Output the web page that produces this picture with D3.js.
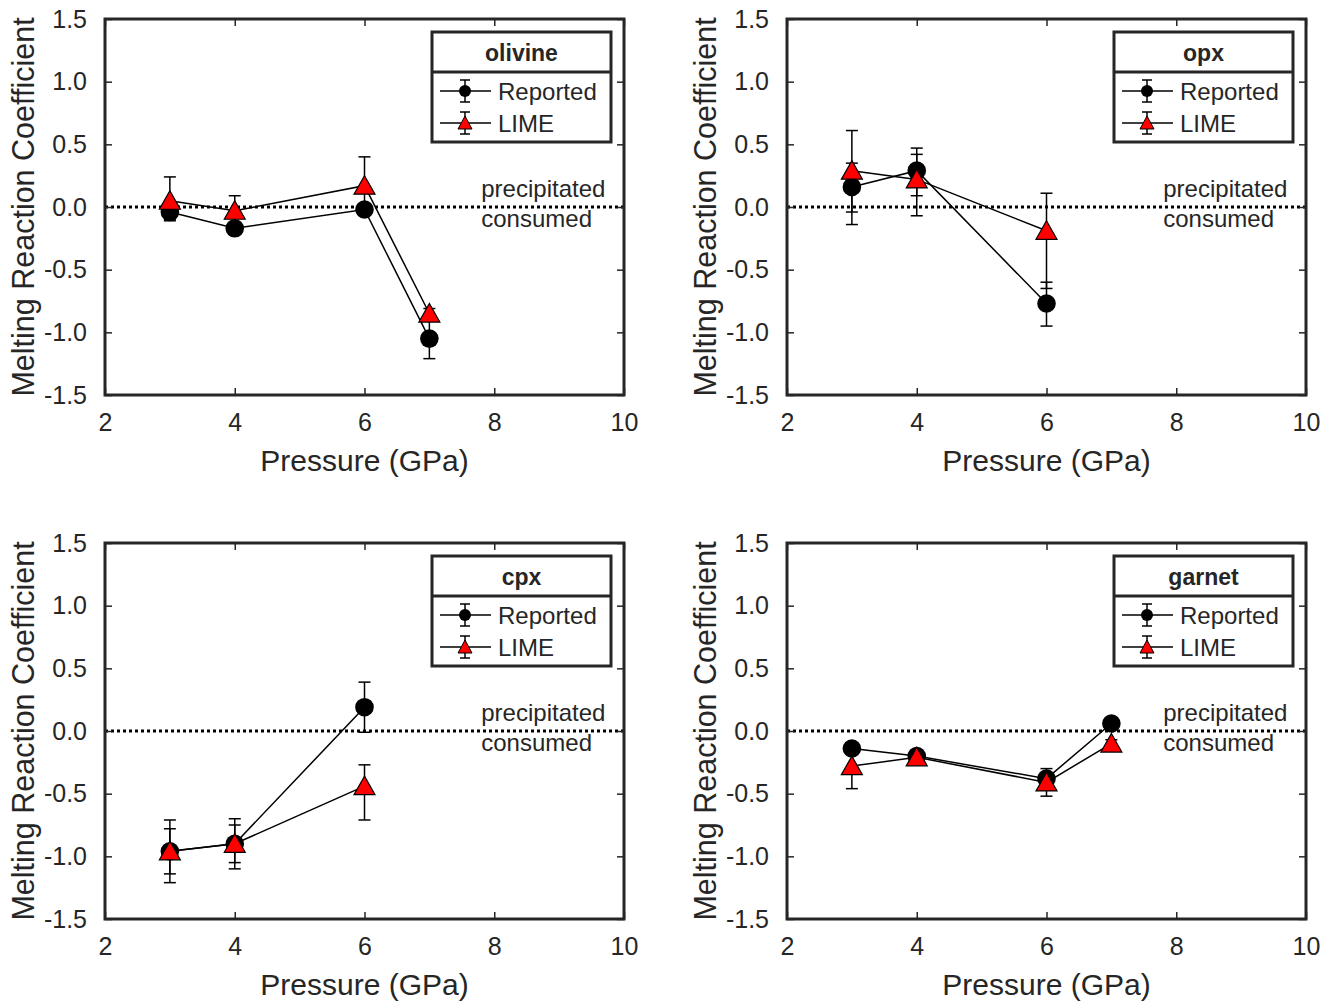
<!DOCTYPE html>
<head>
<meta charset="utf-8">
<title>Melting reaction coefficients</title>
<script src="https://cdn.jsdelivr.net/npm/d3@7"></script>
<style>
body { margin: 0; background: #fff; }
text { font-family: "Liberation Sans", Arial, sans-serif; fill: #262626; }
.tick line { stroke: #262626; stroke-width: 1.5px; }
.tick text { font-size: 25px; }
</style>
</head>
<body>
<svg id="svg" width="1333" height="1002"></svg>
<script>

// values
var minerals = ["olivine", "opx", "cpx", "garnet"];
var pressures = [[3, 4, 6, 7], [3, 4, 6], [3, 4, 6], [3, 4, 6, 7]];

var reported    = [[-0.04, -0.17, -0.02, -1.05], [0.16, 0.29, -0.77], [-0.96, -0.90, 0.19], [-0.14, -0.20, -0.38, 0.06]];
var reportedNeg = [[0.06, 0.03, 0.03, 0.16], [0.30, 0.20, 0.18], [0.25, 0.20, 0.20], [0.03, 0.03, 0.03, 0.04]];
var reportedPos = [[0.06, 0.03, 0.03, 0.16], [0.19, 0.18, 0.17], [0.25, 0.20, 0.20], [0.03, 0.03, 0.03, 0.04]];

var lime    = [[0.05, -0.03, 0.17, -0.85], [0.29, 0.22, -0.19], [-0.96, -0.90, -0.44], [-0.28, -0.21, -0.41, -0.10]];
var limeNeg = [[0.16, 0.12, 0.23, 0.04], [0.33, 0.29, 0.46], [0.18, 0.15, 0.27], [0.18, 0.03, 0.11, 0.03]];
var limePos = [[0.19, 0.12, 0.23, 0.04], [0.32, 0.20, 0.30], [0.18, 0.15, 0.17], [0.18, 0.03, 0.11, 0.03]];

var xTicks = [2, 4, 6, 8, 10];
var yTicks = [-1.5, -1.0, -0.5, 0.0, 0.5, 1.0, 1.5];
var legendLabels = ["Reported", "LIME"];

var svg = d3.select("svg");
var axisColor = "#262626";

var panels = [
  {left: 105, top: 19},
  {left: 787, top: 19},
  {left: 105, top: 543},
  {left: 787, top: 543}
];
var pw = 519, ph = 376;

var x = d3.scaleLinear().domain([2, 10]).range([0, pw]);
var y = d3.scaleLinear().domain([-1.5, 1.5]).range([ph, 0]);

var triangle = function(cx, cy) {
  return "M" + cx + "," + (cy - 10) + "L" + (cx + 10.5) + "," + (cy + 8.5) + "L" + (cx - 10.5) + "," + (cy + 8.5) + "Z";
};

function drawSeries(g, px, vals, neg, pos, kind) {
  var pts = px.map(function(p, i) { return {p: p, v: vals[i], lo: vals[i] - neg[i], hi: vals[i] + pos[i]}; });
  var line = d3.line().x(function(d) { return x(d.p); }).y(function(d) { return y(d.v); });

  g.append("path").datum(pts)
    .attr("d", line)
    .attr("fill", "none").attr("stroke", "#000").attr("stroke-width", 1.5);

  var eb = g.append("g").selectAll("g").data(pts).enter().append("g")
    .attr("stroke", "#000").attr("stroke-width", 1.5);
  eb.append("line")
    .attr("x1", function(d) { return x(d.p); }).attr("x2", function(d) { return x(d.p); })
    .attr("y1", function(d) { return y(d.lo); }).attr("y2", function(d) { return y(d.hi); });
  eb.append("line")
    .attr("x1", function(d) { return x(d.p) - 6; }).attr("x2", function(d) { return x(d.p) + 6; })
    .attr("y1", function(d) { return y(d.lo); }).attr("y2", function(d) { return y(d.lo); });
  eb.append("line")
    .attr("x1", function(d) { return x(d.p) - 6; }).attr("x2", function(d) { return x(d.p) + 6; })
    .attr("y1", function(d) { return y(d.hi); }).attr("y2", function(d) { return y(d.hi); });

  if (kind == "circle") {
    g.append("g").selectAll("circle").data(pts).enter().append("circle")
      .attr("cx", function(d) { return x(d.p); })
      .attr("cy", function(d) { return y(d.v); })
      .attr("r", 9.3)
      .attr("fill", "#000");
  } else {
    g.append("g").selectAll("path").data(pts).enter().append("path")
      .attr("d", function(d) { return triangle(x(d.p), y(d.v)); })
      .attr("fill", "#f00").attr("stroke", "#000").attr("stroke-width", 1.2);
  }
}

minerals.forEach(function(name, k) {
  var g = svg.append("g").attr("transform", "translate(" + panels[k].left + "," + panels[k].top + ")");

  // zero line
  g.append("line")
    .attr("x1", 0).attr("x2", pw).attr("y1", y(0)).attr("y2", y(0))
    .attr("stroke", "#000").attr("stroke-width", 3).attr("stroke-dasharray", "3,3");

  g.append("text").attr("x", x(7.8)).attr("y", y(0) - 10).style("font-size", "24px").text("precipitated");
  g.append("text").attr("x", x(7.8)).attr("y", y(0) + 20).style("font-size", "24px").text("consumed");

  drawSeries(g, pressures[k], reported[k], reportedNeg[k], reportedPos[k], "circle");
  drawSeries(g, pressures[k], lime[k], limeNeg[k], limePos[k], "triangle");

  // axes with inward ticks on all four sides
  var fmt = function(d) { return d.toFixed(1); };
  g.append("g").call(d3.axisLeft(y).tickValues(yTicks).tickFormat(fmt).tickSize(-7).tickPadding(18));
  g.append("g").attr("transform", "translate(" + pw + ",0)")
    .call(d3.axisRight(y).tickValues(yTicks).tickFormat("").tickSize(-7));
  g.append("g").attr("transform", "translate(0," + ph + ")")
    .call(d3.axisBottom(x).tickValues(xTicks).tickFormat(d3.format("d")).tickSize(-7).tickPadding(18));
  g.append("g")
    .call(d3.axisTop(x).tickValues(xTicks).tickFormat("").tickSize(-7));
  g.selectAll(".domain").remove();
  g.selectAll(".tick text").attr("fill", axisColor);

  g.append("rect").attr("width", pw).attr("height", ph)
    .attr("fill", "none").attr("stroke", axisColor).attr("stroke-width", 3);

  g.append("text")
    .attr("x", pw / 2).attr("y", ph + 76)
    .attr("text-anchor", "middle").style("font-size", "30px")
    .text("Pressure (GPa)");
  g.append("text")
    .attr("transform", "translate(-71," + (ph / 2) + ") rotate(-90)")
    .attr("text-anchor", "middle").style("font-size", "30.5px")
    .text("Melting Reaction Coefficient");

  // legend
  var lg = g.append("g").attr("transform", "translate(" + (pw - 192) + ",13)");
  lg.append("rect").attr("width", 179).attr("height", 110)
    .attr("fill", "#fff").attr("stroke", axisColor).attr("stroke-width", 3);
  lg.append("line").attr("x1", 0).attr("x2", 179).attr("y1", 40).attr("y2", 40)
    .attr("stroke", axisColor).attr("stroke-width", 3);
  lg.append("text").attr("x", 89.5).attr("y", 29).attr("text-anchor", "middle")
    .style("font-size", "23px").style("font-weight", "bold").attr("fill", "#000").text(name);

  legendLabels.forEach(function(lab, i) {
    var cy = 59 + i * 32;
    var it = lg.append("g").attr("stroke", "#000").attr("stroke-width", 1.5);
    it.append("line").attr("x1", 8).attr("x2", 59).attr("y1", cy).attr("y2", cy);
    it.append("line").attr("x1", 33).attr("x2", 33).attr("y1", cy - 11).attr("y2", cy + 11);
    it.append("line").attr("x1", 28).attr("x2", 38).attr("y1", cy - 11).attr("y2", cy - 11);
    it.append("line").attr("x1", 28).attr("x2", 38).attr("y1", cy + 11).attr("y2", cy + 11);
    if (i == 0) {
      lg.append("circle").attr("cx", 33).attr("cy", cy).attr("r", 6).attr("fill", "#000");
    } else {
      lg.append("path")
        .attr("d", "M33," + (cy - 7) + "L40," + (cy + 6) + "L26," + (cy + 6) + "Z")
        .attr("fill", "#f00").attr("stroke", "#000").attr("stroke-width", 1);
    }
    lg.append("text").attr("x", 66).attr("y", cy + 8.5)
      .style("font-size", "24px").attr("fill", "#000").text(lab);
  });
});

</script>
</body>
